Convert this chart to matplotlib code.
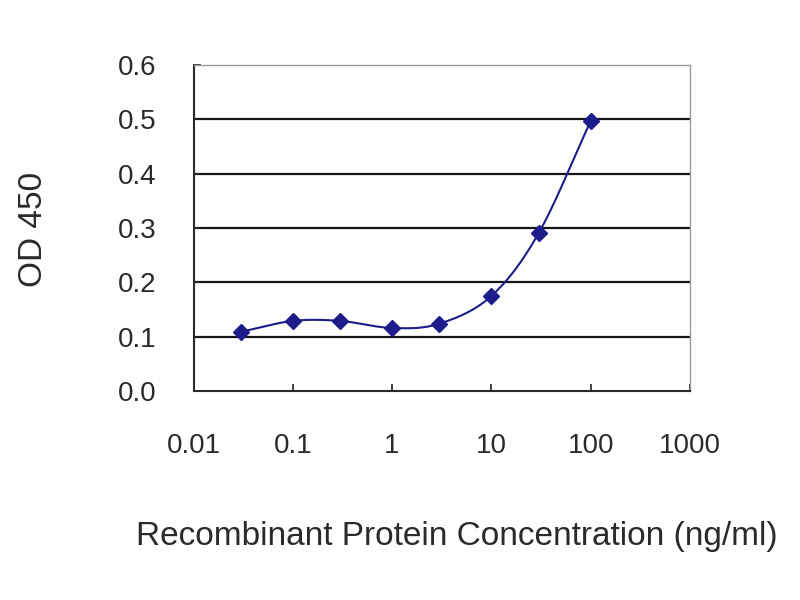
import matplotlib
matplotlib.use('Agg')
import matplotlib.pyplot as plt
import numpy as np

plt.rcParams['font.family'] = ['Liberation Sans', 'DejaVu Sans']

# ELISA standard curve
conc = [0.03, 0.1, 0.3, 1, 3, 10, 30, 100]
od = [0.109, 0.129, 0.129, 0.116, 0.124, 0.175, 0.291, 0.497]
xticks = [0.01, 0.1, 1, 10, 100, 1000]
xtick_labels = ['0.01', '0.1', '1', '10', '100', '1000']
yticks = [0.0, 0.1, 0.2, 0.3, 0.4, 0.5, 0.6]

line_col = '#1c1c8a'
text_col = '#2a2a2a'


def smooth(xs, ys, n=30):
    # catmull-rom through the points, like excel's smoothed line
    px = np.log10(xs)
    py = np.asarray(ys, float)
    px = np.concatenate([[2 * px[0] - px[1]], px, [2 * px[-1] - px[-2]]])
    py = np.concatenate([[2 * py[0] - py[1]], py, [2 * py[-1] - py[-2]]])
    outx, outy = [], []
    t = np.linspace(0, 1, n)
    for i in range(1, len(px) - 2):
        for arr, out in ((px, outx), (py, outy)):
            p0, p1, p2, p3 = arr[i - 1], arr[i], arr[i + 1], arr[i + 2]
            out.extend(0.5 * ((2 * p1) + (-p0 + p2) * t
                              + (2 * p0 - 5 * p1 + 4 * p2 - p3) * t ** 2
                              + (-p0 + 3 * p1 - 3 * p2 + p3) * t ** 3))
    return 10 ** np.array(outx), np.array(outy)


fig = plt.figure(figsize=(8, 6), dpi=100)
ax = fig.add_axes([0.2419, 0.3483, 0.6206, 0.5433])

for g in yticks[1:-1]:
    ax.axhline(g, color='#151515', lw=1.6, zorder=1)

sx, sy = smooth(conc, od)
ax.plot(sx, sy, color=line_col, lw=1.5, zorder=3)
ax.plot(conc, od, ls='none', marker='D', ms=8.5, color=line_col, zorder=4)

ax.set_xscale('log')
ax.set_xlim(0.01, 1000)
ax.set_ylim(0, 0.6)
ax.set_xticks(xticks)
ax.set_xticklabels(xtick_labels)
ax.xaxis.set_minor_locator(matplotlib.ticker.NullLocator())
ax.set_yticks(yticks)
ax.set_yticklabels(['%.1f' % v for v in yticks])

ax.tick_params(axis='both', direction='in', length=5, width=1.2,
               colors='#222222', labelsize=20, labelcolor=text_col)
ax.tick_params(axis='x', pad=30)
ax.tick_params(axis='y', pad=27)

for side in ('left', 'bottom'):
    ax.spines[side].set_color('#2a2a2a')
    ax.spines[side].set_linewidth(1.5)
for side in ('top', 'right'):
    ax.spines[side].set_color('#9a9a9a')
    ax.spines[side].set_linewidth(1.0)

fig.text(456.5 / 800, 1 - 537 / 600, 'Recombinant Protein Concentration (ng/ml)',
         ha='center', va='center', fontsize=24, color=text_col)
fig.text(33 / 800, 1 - 229 / 600, 'OD 450', rotation=90,
         ha='center', va='center', fontsize=24, color=text_col)

fig.savefig('out.png', dpi=100)
